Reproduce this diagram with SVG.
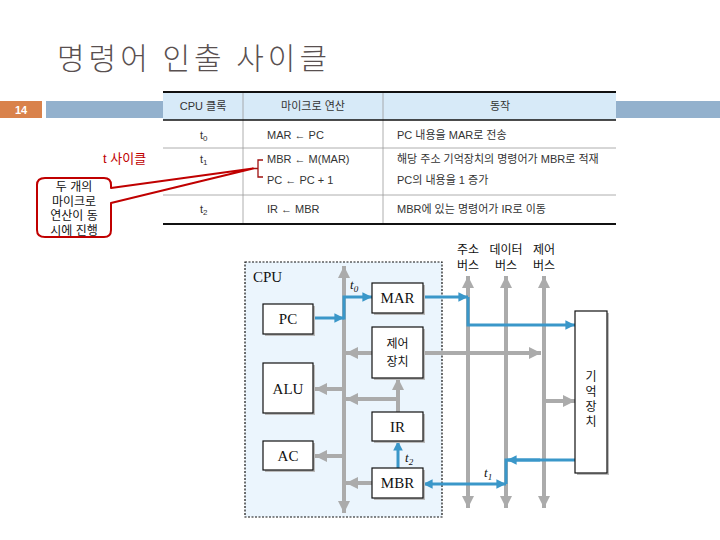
<svg xmlns="http://www.w3.org/2000/svg" width="720" height="540" viewBox="0 0 720 540">
<style>
.title{font-family:"Noto Sans CJK KR","Liberation Sans",sans-serif;font-size:30px;font-weight:300;letter-spacing:4px;fill:#595050}
.tb{font-family:"Liberation Sans","Noto Sans CJK KR",sans-serif;font-size:11px;fill:#333}
.ser{font-family:"Liberation Serif","Noto Sans CJK KR",serif;font-size:15px;fill:#111}
.box{fill:#fff;stroke:#111;stroke-width:1.2}
.shadow{fill:#bbb}
.gbus{stroke:#ABABAB;stroke-width:4;fill:none}
.blue{stroke:#3A97C9;stroke-width:3;fill:none}
.kbox{font-family:"Liberation Sans","Noto Sans CJK KR",sans-serif;font-size:12px;fill:#111}
.lab{font-family:"Liberation Serif",serif;font-style:italic;font-size:13px;fill:#111}
.call{font-family:"Liberation Sans","Noto Sans CJK KR",sans-serif;font-size:12px;fill:#111}
</style>
<defs>
<marker id="ga" viewBox="0 0 10 10" refX="10" refY="5" markerWidth="3" markerHeight="3" orient="auto-start-reverse" markerUnits="strokeWidth"><path d="M0,0 L10,5 L0,10 Z" fill="#ABABAB"/></marker>
<marker id="ba" viewBox="0 0 10 10" refX="10" refY="5" markerWidth="3.5" markerHeight="3.2" orient="auto-start-reverse" markerUnits="strokeWidth"><path d="M0,0 L10,5 L0,10 Z" fill="#3A97C9"/></marker>
</defs>
<rect width="720" height="540" fill="#fff"/>

<!-- title -->
<text class="title" x="57" y="69">명령어 인출 사이클</text>

<!-- slide number and bar -->
<g id="slide-number">
<rect x="0" y="101" width="42" height="17" fill="#D9824B"/>
<text x="21" y="114" text-anchor="middle" font-family="Liberation Sans,sans-serif" font-size="11" font-weight="bold" fill="#fff">14</text>
<rect x="46" y="101" width="674" height="17" fill="#93B1CD"/>
</g>

<!-- table -->
<g id="table">
<rect x="163" y="92" width="453" height="132" fill="#fff"/>
<rect x="163" y="92" width="453" height="28" fill="#D7EAF8"/>
<line x1="243" y1="92" x2="243" y2="224" stroke="#999" stroke-width="0.8"/>
<line x1="383" y1="92" x2="383" y2="224" stroke="#999" stroke-width="0.8"/>
<line x1="163" y1="148" x2="616" y2="148" stroke="#999" stroke-width="0.8"/>
<line x1="163" y1="195" x2="616" y2="195" stroke="#999" stroke-width="0.8"/>
<line x1="163" y1="92" x2="616" y2="92" stroke="#111" stroke-width="2"/>
<line x1="163" y1="120" x2="616" y2="120" stroke="#111" stroke-width="1.5"/>
<line x1="163" y1="224" x2="616" y2="224" stroke="#111" stroke-width="2"/>
<text class="tb" x="203" y="110" text-anchor="middle">CPU 클록</text>
<text class="tb" x="313" y="110" text-anchor="middle">마이크로 연산</text>
<text class="tb" x="500" y="110" text-anchor="middle">동작</text>
<text class="tb" x="200" y="139">t<tspan font-size="8" dy="2">0</tspan></text>
<text class="tb" x="200" y="163">t<tspan font-size="8" dy="2">1</tspan></text>
<text class="tb" x="200" y="213">t<tspan font-size="8" dy="2">2</tspan></text>
<text class="tb" x="267" y="139">MAR ← PC</text>
<text class="tb" x="267" y="163">MBR ← M(MAR)</text>
<text class="tb" x="267" y="184">PC ← PC + 1</text>
<text class="tb" x="267" y="213">IR ← MBR</text>
<text class="tb" x="397" y="139">PC 내용을 MAR로 전송</text>
<text class="tb" x="397" y="163">해당 주소 기억장치의 명령어가 MBR로 적재</text>
<text class="tb" x="397" y="184">PC의 내용을 1 증가</text>
<text class="tb" x="397" y="213">MBR에 있는 명령어가 IR로 이동</text>
<path d="M263,160 H258 V177 H263 M258,168.5 H253" fill="none" stroke="#A01010" stroke-width="1.3"/>
</g>

<!-- callout -->
<g id="callout">
<text x="103" y="163" font-family="Liberation Sans,Noto Sans CJK KR,sans-serif" font-size="13" fill="#C00000">t 사이클</text>
<path d="M45,178 H104 Q111,178 111,185 V188 L253,168.5 L111,203 V230 Q111,237 104,237 H45 Q37,237 37,230 V185 Q37,178 45,178 Z" fill="#fff" stroke="#C00000" stroke-width="2" stroke-linejoin="round"/>
<text class="call" x="74" y="191" text-anchor="middle">두 개의</text>
<text class="call" x="74" y="205.5" text-anchor="middle">마이크로</text>
<text class="call" x="74" y="220" text-anchor="middle">연산이 동</text>
<text class="call" x="74" y="234.5" text-anchor="middle">시에 진행</text>
</g>

<!-- CPU region -->
<g id="cpu">
<rect x="245" y="262" width="197" height="255" fill="#EBF5FD" stroke="#111" stroke-width="1.2" stroke-dasharray="2,1.5"/>
<text class="ser" x="253" y="282">CPU</text>
</g>

<!-- bus labels -->
<g id="bus-labels" class="kbox" text-anchor="middle">
<text x="468" y="254">주소</text>
<text x="468" y="270">버스</text>
<text x="506" y="254">데이터</text>
<text x="506" y="270">버스</text>
<text x="544" y="254">제어</text>
<text x="544" y="270">버스</text>
</g>

<!-- connectors -->
<g id="connectors">
<line class="gbus" x1="344" y1="266" x2="344" y2="513" marker-start="url(#ga)" marker-end="url(#ga)"/>
<line class="gbus" x1="468" y1="276" x2="468" y2="508" marker-start="url(#ga)" marker-end="url(#ga)"/>
<line class="gbus" x1="506" y1="276" x2="506" y2="508" marker-start="url(#ga)" marker-end="url(#ga)"/>
<line class="gbus" x1="544" y1="276" x2="544" y2="508" marker-start="url(#ga)" marker-end="url(#ga)"/>
<line class="gbus" x1="372" y1="353" x2="346" y2="353" marker-end="url(#ga)"/>
<line class="gbus" x1="423" y1="353" x2="541" y2="353" marker-end="url(#ga)"/>
<line class="gbus" x1="344" y1="389" x2="315" y2="389" marker-end="url(#ga)"/>
<path class="gbus" d="M398,412 V399 H346" marker-end="url(#ga)"/>
<line class="gbus" x1="398" y1="400" x2="398" y2="378" marker-end="url(#ga)"/>
<line class="gbus" x1="344" y1="456" x2="315" y2="456" marker-end="url(#ga)"/>
<line class="gbus" x1="372" y1="483" x2="346" y2="483" marker-end="url(#ga)"/>
<line class="gbus" x1="544" y1="401" x2="575" y2="401" marker-end="url(#ga)"/>
<line class="blue" x1="315" y1="318" x2="344" y2="318" marker-end="url(#ba)"/>
<path class="blue" d="M344,319.5 V297 H372" marker-end="url(#ba)"/>
<line class="blue" x1="423" y1="297" x2="468" y2="297" marker-end="url(#ba)"/>
<path class="blue" d="M468,297 V325 H575" marker-end="url(#ba)"/>
<line class="blue" x1="398" y1="468" x2="398" y2="441" marker-end="url(#ba)"/>
<line class="blue" x1="423" y1="484" x2="506" y2="484" marker-start="url(#ba)" marker-end="url(#ba)"/>
<path class="blue" d="M575,460 H506 V484"/>
<line class="blue" x1="540" y1="460" x2="507" y2="460" marker-end="url(#ba)"/>
<text class="lab" x="350" y="289">t<tspan font-size="9" dy="3">0</tspan></text>
<text class="lab" x="405" y="462">t<tspan font-size="9" dy="3">2</tspan></text>
<text class="lab" x="484" y="477">t<tspan font-size="9" dy="3">1</tspan></text>
</g>

<!-- nodes -->
<g id="MAR"><rect class="shadow" x="374" y="285" width="51" height="30"/><rect class="box" x="372" y="283" width="51" height="30"/><text class="ser" x="397.5" y="303" text-anchor="middle">MAR</text></g>
<g id="PC"><rect class="shadow" x="265" y="306" width="50" height="30"/><rect class="box" x="263" y="304" width="50" height="30"/><text class="ser" x="288" y="324" text-anchor="middle">PC</text></g>
<g id="control-unit"><rect class="shadow" x="374" y="329" width="51" height="51"/><rect class="box" x="372" y="327" width="51" height="51"/><text class="kbox" x="397.5" y="348" text-anchor="middle">제어</text><text class="kbox" x="397.5" y="366" text-anchor="middle">장치</text></g>
<g id="ALU"><rect class="shadow" x="265" y="365" width="50" height="50"/><rect class="box" x="263" y="363" width="50" height="50"/><text class="ser" x="288" y="394" text-anchor="middle">ALU</text></g>
<g id="IR"><rect class="shadow" x="374" y="414" width="51" height="29"/><rect class="box" x="372" y="412" width="51" height="29"/><text class="ser" x="397.5" y="432" text-anchor="middle">IR</text></g>
<g id="AC"><rect class="shadow" x="265" y="443" width="50" height="29"/><rect class="box" x="263" y="441" width="50" height="29"/><text class="ser" x="288" y="461" text-anchor="middle">AC</text></g>
<g id="MBR"><rect class="shadow" x="374" y="470" width="51" height="30"/><rect class="box" x="372" y="468" width="51" height="30"/><text class="ser" x="397.5" y="488" text-anchor="middle">MBR</text></g>
<g id="memory"><rect class="shadow" x="577" y="313" width="32" height="162"/><rect class="box" x="575" y="311" width="32" height="162"/>
<text class="kbox" x="591" y="381" text-anchor="middle">기</text>
<text class="kbox" x="591" y="396" text-anchor="middle">억</text>
<text class="kbox" x="591" y="411" text-anchor="middle">장</text>
<text class="kbox" x="591" y="426" text-anchor="middle">치</text></g>
</svg>
